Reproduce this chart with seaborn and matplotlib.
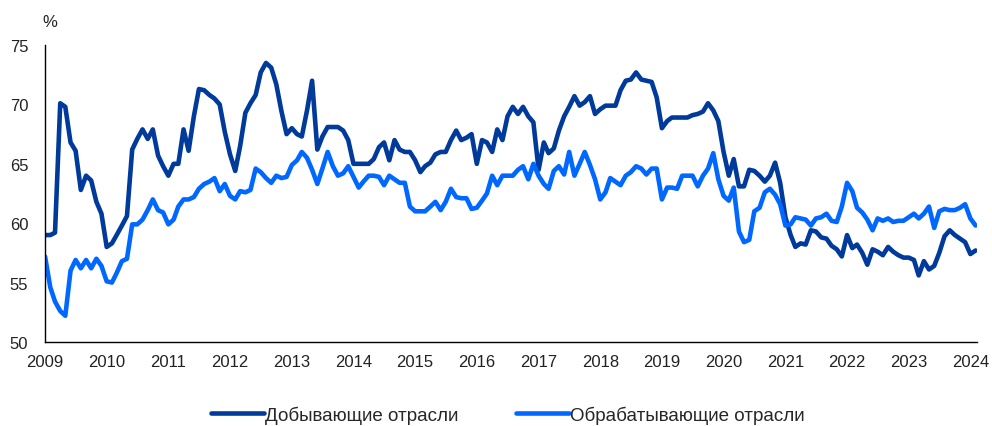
import pandas as pd
import seaborn as sns
import matplotlib.pyplot as plt
import matplotlib.dates as mdates

# monthly values, Jan 2009 - Feb 2024, %
mining = [
    59.0, 59.0, 59.2, 70.1, 69.8, 66.8, 66.1, 62.8, 64.0, 63.6, 61.8, 60.8,  # 2009
    58.0, 58.3, 59.0, 59.8, 60.6, 66.2, 67.1, 67.9, 67.1, 67.9, 65.7, 64.8,  # 2010
    64.0, 65.0, 65.0, 67.9, 66.1, 69.0, 71.3, 71.2, 70.8, 70.5, 70.0, 67.7,  # 2011
    65.8, 64.4, 66.5, 69.3, 70.1, 70.8, 72.7, 73.5, 73.1, 71.7, 69.4, 67.5,  # 2012
    68.0, 67.5, 67.3, 69.5, 72.0, 66.2, 67.3, 68.1, 68.1, 68.1, 67.8, 67.0,  # 2013
    65.0, 65.0, 65.0, 65.0, 65.4, 66.4, 66.8, 65.3, 67.0, 66.2, 66.0, 66.0,  # 2014
    65.3, 64.3, 64.8, 65.1, 65.8, 66.0, 66.0, 67.0, 67.8, 67.0, 67.2, 67.5,  # 2015
    65.0, 67.0, 66.8, 66.0, 67.9, 67.0, 69.0, 69.8, 69.2, 69.8, 69.0, 68.5,  # 2016
    64.5, 66.8, 65.9, 66.3, 67.8, 69.0, 69.8, 70.7, 69.9, 70.2, 70.7, 69.2,  # 2017
    69.6, 69.9, 69.9, 69.9, 71.2, 72.0, 72.1, 72.7, 72.1, 72.0, 71.9, 70.6,  # 2018
    68.0, 68.6, 68.9, 68.9, 68.9, 68.9, 69.1, 69.2, 69.4, 70.1, 69.5, 68.6,  # 2019
    66.0, 64.0, 65.4, 63.1, 63.1, 64.5, 64.4, 64.0, 63.5, 64.0, 65.1, 63.4,  # 2020
    60.5, 59.0, 58.0, 58.3, 58.2, 59.4, 59.3, 58.8, 58.7, 58.1, 57.8, 57.2,  # 2021
    59.0, 57.9, 58.2, 57.5, 56.5, 57.8, 57.6, 57.3, 58.0, 57.6, 57.3, 57.1,  # 2022
    57.1, 56.9, 55.6, 56.8, 56.1, 56.4, 57.5, 58.9, 59.4, 59.0, 58.7, 58.4,  # 2023
    57.4, 57.7,                                                              # 2024
]
manufacturing = [
    57.2, 54.6, 53.4, 52.6, 52.2, 56.0, 56.9, 56.2, 56.9, 56.2, 57.0, 56.4,  # 2009
    55.1, 55.0, 55.8, 56.8, 57.0, 59.9, 59.9, 60.3, 61.1, 62.0, 61.1, 60.9,  # 2010
    59.9, 60.3, 61.4, 62.0, 62.0, 62.2, 62.9, 63.3, 63.5, 63.8, 62.7, 63.3,  # 2011
    62.3, 62.0, 62.7, 62.6, 62.8, 64.6, 64.3, 63.8, 63.4, 64.0, 63.8, 63.9,  # 2012
    64.9, 65.3, 66.0, 65.5, 64.5, 63.3, 64.6, 66.0, 64.8, 64.0, 64.2, 64.8,  # 2013
    63.9, 63.0, 63.5, 64.0, 64.0, 63.9, 63.2, 64.0, 63.7, 63.4, 63.4, 61.4,  # 2014
    61.0, 61.0, 61.0, 61.4, 61.8, 61.1, 61.8, 62.9, 62.2, 62.1, 62.1, 61.2,  # 2015
    61.3, 61.9, 62.5, 64.0, 63.2, 64.0, 64.0, 64.0, 64.5, 64.8, 63.7, 65.0,  # 2016
    64.0, 63.3, 62.9, 64.4, 64.8, 64.1, 66.0, 64.0, 65.0, 66.0, 64.9, 63.7,  # 2017
    62.0, 62.6, 63.8, 63.5, 63.2, 64.0, 64.3, 64.8, 64.6, 64.1, 64.6, 64.6,  # 2018
    62.0, 63.0, 63.0, 62.9, 64.0, 64.0, 64.0, 63.1, 64.0, 64.6, 65.9, 63.7,  # 2019
    62.3, 61.9, 63.0, 59.3, 58.4, 58.6, 61.0, 61.3, 62.6, 62.9, 62.4, 61.6,  # 2020
    59.8, 59.9, 60.5, 60.4, 60.3, 59.8, 60.4, 60.5, 60.8, 60.2, 60.1, 61.4,  # 2021
    63.4, 62.7, 61.3, 60.9, 60.3, 59.4, 60.4, 60.2, 60.4, 60.1, 60.2, 60.2,  # 2022
    60.5, 60.8, 60.4, 60.8, 61.4, 59.6, 61.0, 61.2, 61.1, 61.1, 61.3, 61.6,  # 2023
    60.4, 59.8,                                                              # 2024
]
dates = pd.date_range("2009-01-01", periods=len(mining), freq="MS")
series_names = ["Добывающие отрасли", "Обрабатывающие отрасли"]
colors = ["#003A9A", "#0068FF"]

df = pd.concat([
    pd.DataFrame({"date": dates, "value": mining, "series": series_names[0]}),
    pd.DataFrame({"date": dates, "value": manufacturing, "series": series_names[1]}),
])

sns.set_style("white")
plt.rcParams["font.family"] = ["Liberation Sans", "DejaVu Sans"]

fig = plt.figure(figsize=(9.92, 4.27), dpi=100)
ax = fig.add_axes([0.0454, 0.197, 0.9396, 0.695])

sns.lineplot(data=df, x="date", y="value", hue="series",
             palette=dict(zip(series_names, colors)), linewidth=3.3,
             ax=ax, legend=True)

ax.set_xlim(pd.Timestamp("2009-01-01"), pd.Timestamp("2024-02-10"))
ax.set_ylim(50, 75)
ax.set_yticks([50, 55, 60, 65, 70, 75])
ax.xaxis.set_major_locator(mdates.YearLocator())
ax.xaxis.set_major_formatter(mdates.DateFormatter("%Y"))
ax.set_xlabel("")
ax.set_ylabel("")

sns.despine(ax=ax)
for s in ["left", "bottom"]:
    ax.spines[s].set_color("black")
    ax.spines[s].set_linewidth(1)
ax.tick_params(axis="both", direction="out", length=4, width=1,
               color="black", labelsize=12, labelcolor="#222222")
ax.tick_params(axis="y", pad=8)
ax.tick_params(axis="x", pad=5)

fig.text(0.043, 0.948, "%", fontsize=12, color="#222222", va="center")

handles, labels = ax.get_legend_handles_labels()
ax.legend_.remove()
fig.legend(handles, labels, loc="center", bbox_to_anchor=(0.512, 0.026),
           ncol=2, frameon=False, fontsize=13.5, handlelength=2.8,
           handletextpad=0.05, columnspacing=3.1)

fig.savefig("out.png", dpi=100)
